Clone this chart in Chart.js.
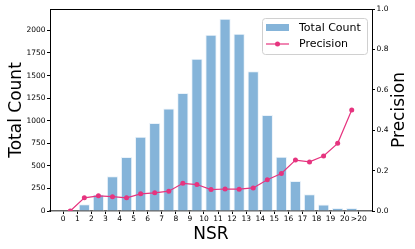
<!DOCTYPE html>
<html>
<head>
<meta charset="utf-8">
<script src="https://cdn.jsdelivr.net/npm/chart.js@4.4.1/dist/chart.umd.min.js"></script>
<style>
  html, body { margin: 0; padding: 0; background: #fff; }
  #wrap { width: 415px; height: 249px; }
</style>
</head>
<body>
<div id="wrap"><canvas id="nsrChart" width="415" height="249"></canvas></div>
<script>
// Data
const nsrLabels = ['0', '1', '2', '3', '4', '5', '6', '7', '8', '9', '10',
    '11', '12', '13', '14', '15', '16', '17', '18', '19', '20', '>20'];
const totalCount = [0, 75, 182, 386, 597, 822, 974, 1135, 1308, 1686, 1952,
    2130, 1963, 1548, 1063, 600, 333, 186, 71, 33, 33];
const precision = [0.0, 0.065, 0.075, 0.071, 0.065, 0.085, 0.090, 0.098, 0.137, 0.131, 0.106,
    0.109, 0.108, 0.114, 0.155, 0.186, 0.252, 0.243, 0.272, 0.335, 0.500];
const countTicks = [0, 250, 500, 750, 1000, 1250, 1500, 1750, 2000];
const precisionTicks = [0, 0.2, 0.4, 0.6, 0.8, 1.0];

const FONT = 'DejaVu Sans';
const barColor = '#85b4d9';
const lineColor = '#e6347f';

// each bin sits between two edge labels
const countPoints = totalCount.map((v, i) => ({ x: i + 0.5, y: v }));
const precisionPoints = precision.map((v, i) => ({ x: i + 0.5, y: v }));

// top spine, right-hand title (bottom-to-top) and legend box
const framePlugin = {
    id: 'frame',
    afterDraw(chart) {
        const { ctx, chartArea } = chart;
        ctx.save();
        ctx.strokeStyle = '#000';
        ctx.lineWidth = 1;
        ctx.beginPath();
        ctx.moveTo(chartArea.left, chartArea.top + 0.5);
        ctx.lineTo(chartArea.right, chartArea.top + 0.5);
        ctx.stroke();

        // right axis title
        ctx.save();
        ctx.translate(399.5, (chartArea.top + chartArea.bottom) / 2);
        ctx.rotate(-Math.PI / 2);
        ctx.fillStyle = '#000';
        ctx.font = '17px "' + FONT + '"';
        ctx.textAlign = 'center';
        ctx.textBaseline = 'middle';
        ctx.fillText('Precision', 0, 0);
        ctx.restore();

        // legend
        const bx = 262, by = 18, bw = 105, bh = 36;
        ctx.fillStyle = 'rgba(255,255,255,0.85)';
        ctx.strokeStyle = '#d0d0d0';
        ctx.beginPath();
        ctx.roundRect(bx + 0.5, by + 0.5, bw, bh, 3);
        ctx.fill();
        ctx.stroke();

        ctx.fillStyle = barColor;
        ctx.fillRect(266, 24, 23, 7);

        ctx.strokeStyle = lineColor;
        ctx.lineWidth = 1.2;
        ctx.beginPath();
        ctx.moveTo(266, 44);
        ctx.lineTo(289, 44);
        ctx.stroke();
        ctx.fillStyle = lineColor;
        ctx.beginPath();
        ctx.arc(277.5, 44, 2.5, 0, Math.PI * 2);
        ctx.fill();

        ctx.fillStyle = '#000';
        ctx.font = '11px "' + FONT + '"';
        ctx.textBaseline = 'middle';
        ctx.textAlign = 'left';
        ctx.fillText('Total Count', 299, 28);
        ctx.fillText('Precision', 299, 44.5);
        ctx.restore();
    }
};

const ctx = document.getElementById('nsrChart').getContext('2d');

new Chart(ctx, {
    type: 'bar',
    data: {
        datasets: [
            {
                type: 'line',
                label: 'Precision',
                data: precisionPoints,
                yAxisID: 'y1',
                borderColor: lineColor,
                backgroundColor: lineColor,
                borderWidth: 1.2,
                pointRadius: 2.5,
                pointBorderWidth: 0,
                tension: 0,
                order: 1
            },
            {
                label: 'Total Count',
                data: countPoints,
                yAxisID: 'y',
                backgroundColor: barColor,
                borderColor: 'rgba(235,243,250,1)',
                borderWidth: 1,
                barPercentage: 0.8,
                categoryPercentage: 1.0,
                order: 2
            }
        ]
    },
    options: {
        responsive: false,
        devicePixelRatio: 1,
        animation: false,
        layout: { padding: { top: 9, left: 0, right: 0, bottom: 0 } },
        plugins: {
            legend: { display: false },
            tooltip: { enabled: false }
        },
        scales: {
            x: {
                type: 'linear',
                offset: false,
                min: -0.94,
                max: 21.94,
                afterBuildTicks: axis => {
                    axis.ticks = nsrLabels.map((_, i) => ({ value: i }));
                },
                afterFit: axis => { axis.height = 38; },
                ticks: {
                    autoSkip: false,
                    maxRotation: 0,
                    padding: 1,
                    color: '#000',
                    font: { family: FONT, size: 7.5 },
                    callback: v => nsrLabels[v] ?? ''
                },
                grid: {
                    offset: false,
                    drawOnChartArea: false,
                    drawTicks: true,
                    tickLength: 3,
                    tickColor: '#000'
                },
                border: { display: true, color: '#666', width: 1.5 },
                title: {
                    display: true,
                    text: 'NSR',
                    color: '#000',
                    font: { family: FONT, size: 17 },
                    padding: { top: 4.5, bottom: 4.5 }
                }
            },
            y: {
                position: 'left',
                min: 0,
                max: 2237,
                afterBuildTicks: axis => {
                    axis.ticks = countTicks.map(v => ({ value: v }));
                },
                afterFit: axis => { axis.width = 50; },
                ticks: {
                    padding: 1.5,
                    color: '#000',
                    font: { family: FONT, size: 7.5 },
                    callback: v => String(v)
                },
                grid: {
                    drawOnChartArea: false,
                    drawTicks: true,
                    tickLength: 3,
                    tickColor: '#000'
                },
                border: { display: true, color: '#000', width: 1 },
                title: {
                    display: true,
                    text: 'Total Count',
                    color: '#000',
                    font: { family: FONT, size: 17 },
                    padding: { top: 6, bottom: 6 }
                }
            },
            y1: {
                position: 'right',
                min: 0,
                max: 1,
                afterBuildTicks: axis => {
                    axis.ticks = precisionTicks.map(v => ({ value: v }));
                },
                afterFit: axis => { axis.width = 43; },
                ticks: {
                    padding: 1.5,
                    color: '#000',
                    font: { family: FONT, size: 7.5 },
                    callback: v => v.toFixed(1)
                },
                grid: {
                    drawOnChartArea: false,
                    drawTicks: true,
                    tickLength: 3,
                    tickColor: '#000'
                },
                border: { display: true, color: '#000', width: 1 },
                title: { display: false }
            }
        }
    },
    plugins: [framePlugin]
});
</script>
</body>
</html>
